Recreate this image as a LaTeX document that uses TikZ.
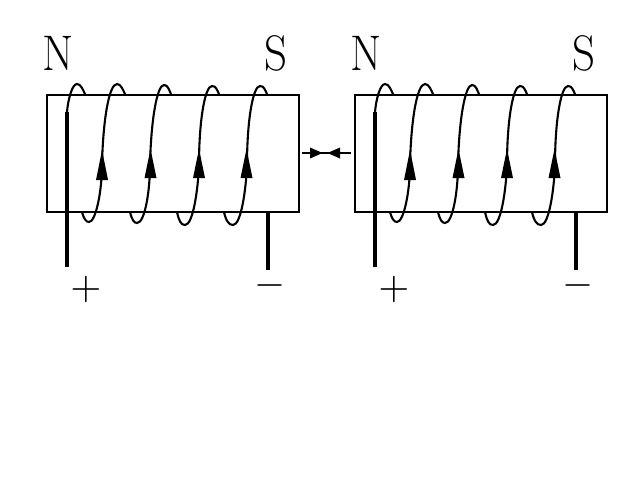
\documentclass[tikz,border=0pt]{standalone}
\usetikzlibrary{arrows.meta}
\tikzset{
  corebox/.style={draw,line width=1.9pt,minimum width=252pt,minimum height=117pt,inner sep=0pt,outer sep=0pt},
  coil/.style={line width=2.1pt},
  lead/.style={line width=3.7pt},
  pole/.style={font=\fontsize{50}{50}\selectfont,xscale=.9,transform shape,inner sep=0pt},
  signlabel/.style={inner sep=0pt},
  headup/.style={draw=none,fill=black},
  gapline/.style={line width=1.9pt}
}
\begin{document}
\begin{tikzpicture}[x=1pt,y=-1pt]
\useasboundingbox (0,0) rectangle (640,480);
\foreach \n/\dx in {a/0,b/308}{
\begin{scope}[xshift=\dx pt]
  \node[corebox] (box\n) at (173,153.5) {};
  \node[pole] (north\n) at (58,53.5) {N};
  \node[pole] (south\n) at (276,53.5) {S};
  \node[signlabel] (plus\n) at (86,289) {\scalebox{4}{$+$}};
  \node[signlabel] (minus\n) at (270,285) {\scalebox{4}{$-$}};
  \coordinate (pa\n) at (67,267);
  \coordinate (pb\n) at (67,112);
  \coordinate (ma\n) at (268,212);
  \coordinate (mb\n) at (268,270);
  \draw[lead] (pa\n) -- (pb\n);
  \draw[lead] (ma\n) -- (mb\n);
  % first turn
  \draw[coil] (pb\n) .. controls (68,100) and (72,84) .. (77,84) .. controls (81,84) and (83,90) .. (85,94);
  % remaining turns
  \draw[coil] (82,212) .. controls (84,219) and (86,222) .. (89,222) .. controls (96,222) and (102,190) .. (102,165)
     .. controls (103,120) and (109,84) .. (117,84) .. controls (121,84) and (123,90) .. (125,94);
  \draw[coil] (130,212) .. controls (132,220) and (134,223) .. (137,223) .. controls (145,223) and (150,190) .. (150,165)
     .. controls (151,120) and (157,85) .. (164,85) .. controls (168,85) and (169,90) .. (171,94);
  \draw[coil] (177,212) .. controls (179,221) and (181,225) .. (185,225) .. controls (193,225) and (198,190) .. (199,165)
     .. controls (199,120) and (205,86) .. (212,86) .. controls (216,86) and (217,90) .. (219,94);
  \draw[coil] (224,212) .. controls (226,221) and (229,225) .. (233,225) .. controls (241,225) and (246,190) .. (247,165)
     .. controls (247,120) and (253,86) .. (260,86) .. controls (264,86) and (265,90) .. (267,94);
  % current arrowheads
  \fill[headup] (102,150) -- (108,180) -- (96,180) -- cycle;
  \fill[headup] (150.5,149) -- (156.5,178) -- (144.5,178) -- cycle;
  \fill[headup] (199,149) -- (205,178) -- (193,178) -- cycle;
  \fill[headup] (246.5,149) -- (252.5,178) -- (240.5,178) -- cycle;
\end{scope}}
\coordinate (gl) at (302,153);
\coordinate (gr) at (351,153);
\draw[gapline] (gl) -- (gr);
\fill[headup] (322.5,153) -- (310,147.5) -- (310,158.5) -- cycle;
\fill[headup] (327.5,153) -- (340,147.5) -- (340,158.5) -- cycle;
\end{tikzpicture}
\end{document}
